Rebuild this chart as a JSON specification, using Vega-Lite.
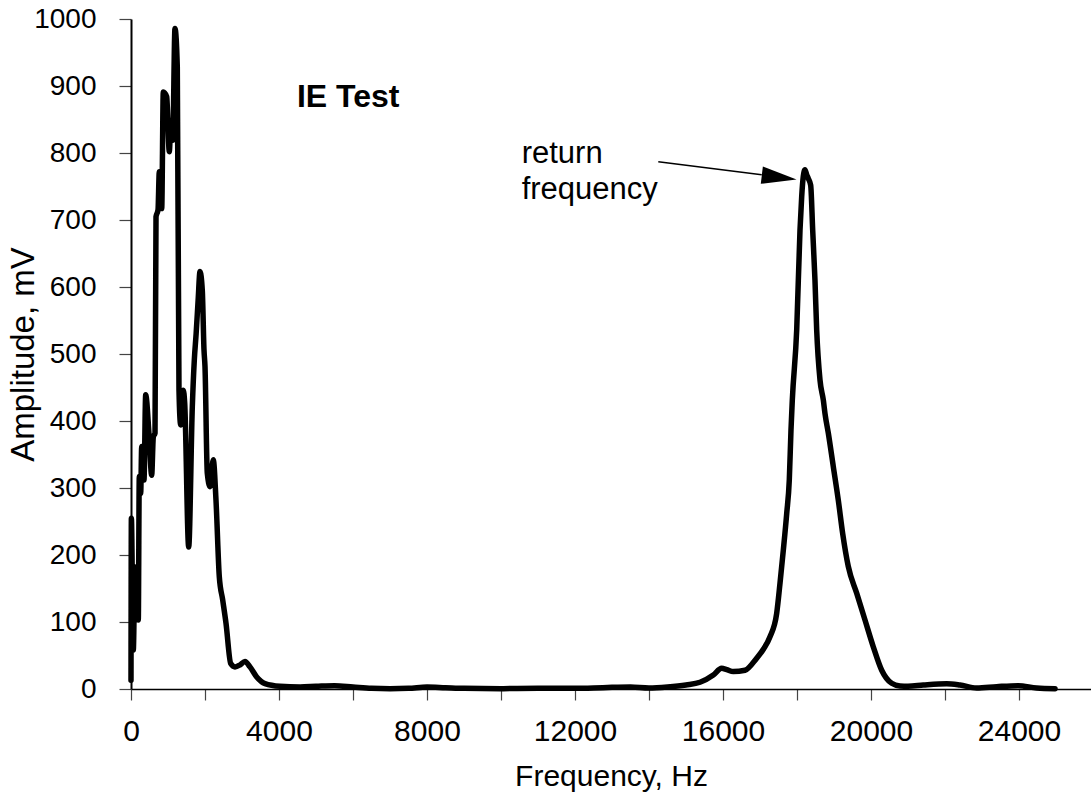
{
  "$schema": "https://vega.github.io/schema/vega-lite/v6.json",
  "width": 960,
  "height": 670,
  "autosize": {"type": "none"},
  "padding": {"left": 131, "top": 19, "right": 0, "bottom": 107},
  "background": "white",
  "config": {"view": {"stroke": null}, "font": "Liberation Sans"},
  "datasets": {
    "curve": [
      {"f": 0, "v": 13}, {"f": 10, "v": 255}, {"f": 62, "v": 58}, {"f": 108, "v": 182}, {"f": 197, "v": 103},
      {"f": 224, "v": 317}, {"f": 262, "v": 292}, {"f": 289, "v": 362}, {"f": 351, "v": 312}, {"f": 397, "v": 439},
      {"f": 486, "v": 381}, {"f": 559, "v": 319}, {"f": 603, "v": 376}, {"f": 649, "v": 382}, {"f": 676, "v": 705},
      {"f": 730, "v": 715}, {"f": 765, "v": 772}, {"f": 830, "v": 717}, {"f": 873, "v": 891}, {"f": 965, "v": 884},
      {"f": 1035, "v": 802}, {"f": 1081, "v": 849}, {"f": 1127, "v": 819}, {"f": 1189, "v": 986}, {"f": 1251, "v": 929},
      {"f": 1297, "v": 446}, {"f": 1343, "v": 394}, {"f": 1414, "v": 446}, {"f": 1451, "v": 427}, {"f": 1559, "v": 212},
      {"f": 1657, "v": 421}, {"f": 1711, "v": 491}, {"f": 1760, "v": 530}, {"f": 1814, "v": 580}, {"f": 1865, "v": 623},
      {"f": 1927, "v": 595}, {"f": 1973, "v": 506}, {"f": 2000, "v": 481}, {"f": 2062, "v": 322}, {"f": 2135, "v": 302},
      {"f": 2224, "v": 342}, {"f": 2297, "v": 282}, {"f": 2386, "v": 168}, {"f": 2478, "v": 133}, {"f": 2568, "v": 98},
      {"f": 2695, "v": 38}, {"f": 2811, "v": 33}, {"f": 2950, "v": 36}, {"f": 3081, "v": 41}, {"f": 3216, "v": 33},
      {"f": 3397, "v": 18}, {"f": 3622, "v": 8}, {"f": 4027, "v": 4}, {"f": 4568, "v": 3}, {"f": 5000, "v": 4},
      {"f": 5500, "v": 5}, {"f": 6000, "v": 3}, {"f": 6500, "v": 1}, {"f": 7000, "v": 0.5}, {"f": 7500, "v": 1},
      {"f": 8000, "v": 3}, {"f": 8500, "v": 2}, {"f": 9000, "v": 1}, {"f": 10000, "v": 0.5}, {"f": 11000, "v": 1},
      {"f": 12000, "v": 1}, {"f": 12500, "v": 1.5}, {"f": 13000, "v": 2.5}, {"f": 13500, "v": 3}, {"f": 14000, "v": 1.5},
      {"f": 14500, "v": 3}, {"f": 15000, "v": 6}, {"f": 15378, "v": 10}, {"f": 15738, "v": 21}, {"f": 15964, "v": 31},
      {"f": 16100, "v": 29}, {"f": 16278, "v": 26}, {"f": 16595, "v": 28}, {"f": 16910, "v": 46}, {"f": 17100, "v": 60},
      {"f": 17270, "v": 78}, {"f": 17451, "v": 113}, {"f": 17541, "v": 158}, {"f": 17630, "v": 207}, {"f": 17722, "v": 262},
      {"f": 17792, "v": 312}, {"f": 17838, "v": 387}, {"f": 17873, "v": 431}, {"f": 17992, "v": 536}, {"f": 18081, "v": 685},
      {"f": 18127, "v": 735}, {"f": 18170, "v": 765}, {"f": 18216, "v": 775}, {"f": 18260, "v": 768}, {"f": 18305, "v": 762},
      {"f": 18370, "v": 752}, {"f": 18424, "v": 685}, {"f": 18486, "v": 610}, {"f": 18532, "v": 536}, {"f": 18622, "v": 461},
      {"f": 18712, "v": 431}, {"f": 18757, "v": 411}, {"f": 18846, "v": 382}, {"f": 18981, "v": 332}, {"f": 19116, "v": 282},
      {"f": 19235, "v": 232}, {"f": 19386, "v": 183}, {"f": 19613, "v": 143}, {"f": 19838, "v": 103}, {"f": 20062, "v": 63},
      {"f": 20289, "v": 28}, {"f": 20559, "v": 8.5}, {"f": 20784, "v": 4.5}, {"f": 21000, "v": 4}, {"f": 21414, "v": 6},
      {"f": 22045, "v": 8}, {"f": 22405, "v": 6}, {"f": 22856, "v": 1.5}, {"f": 23397, "v": 3.5}, {"f": 23981, "v": 5},
      {"f": 24478, "v": 1.5}, {"f": 24973, "v": 0.5}
    ],
    "title": [{"f": 4486, "v": 868, "label": "IE Test"}],
    "note": [
      {"f": 10559, "v": 785, "label": "return"},
      {"f": 10559, "v": 732, "label": "frequency"}
    ],
    "arrow": [{"f": 14251, "v": 787, "f2": 17046, "v2": 767.5}],
    "head": [{"f": 17519, "v": 763.7}]
  },
  "encoding": {
    "x": {
      "field": "f", "type": "quantitative", "title": "Frequency, Hz",
      "scale": {"domain": [0, 25946], "nice": false},
      "axis": {
        "values": [0, 2000, 4000, 6000, 8000, 10000, 12000, 14000, 16000, 18000, 20000, 22000, 24000],
        "format": "d",
        "labelExpr": "datum.value % 4000 === 0 ? datum.label : ''",
        "grid": false, "domainColor": "#000", "domainWidth": 1.5,
        "tickColor": "#444", "tickWidth": 1.2, "tickSize": 11,
        "labelFont": "Liberation Sans", "labelFontSize": 30, "labelColor": "#000",
        "labelPadding": 16, "labelFlush": false, "labelOverlap": false,
        "titleFont": "Liberation Sans", "titleFontSize": 30, "titleFontWeight": "normal",
        "titleColor": "#000", "titleBaseline": "alphabetic", "titleY": 96
      }
    },
    "y": {
      "field": "v", "type": "quantitative", "title": "Amplitude, mV",
      "scale": {"domain": [0, 1000], "nice": false},
      "axis": {
        "values": [0, 100, 200, 300, 400, 500, 600, 700, 800, 900, 1000],
        "format": "d",
        "grid": false, "domainColor": "#000", "domainWidth": 2,
        "tickColor": "#444", "tickWidth": 1.2, "tickSize": 12,
        "labelFont": "Liberation Sans", "labelFontSize": 28, "labelColor": "#000",
        "labelPadding": 23, "labelFlush": false, "labelOverlap": false,
        "titleFont": "Liberation Sans", "titleFontSize": 33, "titleFontWeight": "normal",
        "titleColor": "#000", "titleAngle": -90, "titleAlign": "center",
        "titleBaseline": "alphabetic", "titleX": -98, "titleY": 335
      }
    }
  },
  "layer": [
    {
      "data": {"name": "curve"},
      "mark": {"type": "line", "color": "#000", "strokeWidth": 5.5, "strokeCap": "round", "strokeJoin": "round", "interpolate": "monotone"}
    },
    {
      "data": {"name": "title"},
      "mark": {"type": "text", "align": "left", "baseline": "alphabetic", "font": "Liberation Sans", "fontSize": 32, "fontWeight": "bold", "color": "#000"},
      "encoding": {"text": {"field": "label"}}
    },
    {
      "data": {"name": "note"},
      "mark": {"type": "text", "align": "left", "baseline": "alphabetic", "font": "Liberation Sans", "fontSize": 31, "color": "#000"},
      "encoding": {"text": {"field": "label"}}
    },
    {
      "data": {"name": "arrow"},
      "mark": {"type": "rule", "color": "#000", "strokeWidth": 1.5},
      "encoding": {"x2": {"field": "f2"}, "y2": {"field": "v2"}}
    },
    {
      "data": {"name": "head"},
      "mark": {"type": "point", "shape": "M1,0L-1,-0.5L-1,0.5Z", "size": 1225, "angle": 7, "filled": true, "color": "#000", "opacity": 1, "strokeWidth": 0}
    }
  ]
}
